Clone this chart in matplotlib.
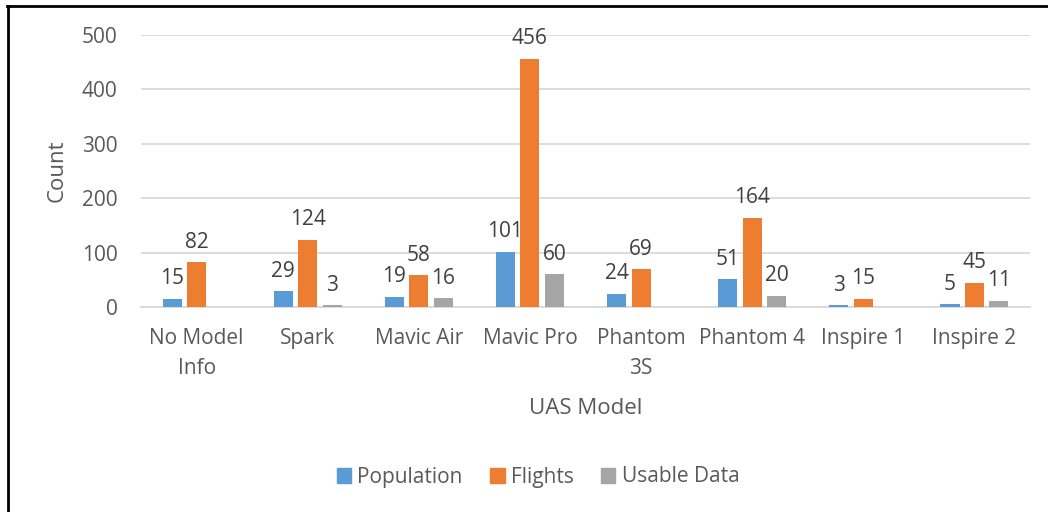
import matplotlib
matplotlib.use("Agg")
import matplotlib.pyplot as plt
import numpy as np
from matplotlib.lines import Line2D

categories = ["No Model\nInfo", "Spark", "Mavic Air", "Mavic Pro", "Phantom\n3S", "Phantom 4", "Inspire 1", "Inspire 2"]
population = [15, 29, 19, 101, 24, 51, 3, 5]
flights = [82, 124, 58, 456, 69, 164, 15, 45]
usable = [None, 3, 16, 60, None, 20, None, 11]

series = [("Population", population, "#5B9BD5"),
          ("Flights", flights, "#ED7D31"),
          ("Usable Data", usable, "#A5A5A5")]

plt.rcParams['font.family'] = ['Open Sans', 'DejaVu Sans']
txt = "#595959"
fs = 15

fig = plt.figure(figsize=(10.48, 5.12), dpi=100)
ax = fig.add_axes([141/1048, 1-307/512, (1030-141)/1048, (307-35)/512])

x = np.arange(len(categories))
w = 0.172
step = 0.22
for i, (name, vals, col) in enumerate(series):
    v = np.array([np.nan if a is None else a for a in vals], dtype=float)
    bars = ax.bar(x + (i-1)*step, np.nan_to_num(v), width=w, color=col, label=name, zorder=3)
    labels = ["" if a is None else str(a) for a in vals]
    ax.bar_label(bars, labels=labels, padding=7, fontsize=fs, color="#404040", clip_on=False)

ax.set_xlim(-0.5, len(categories)-0.5)
ax.set_ylim(0, 500)
ax.set_yticks([0, 100, 200, 300, 400, 500])
ax.yaxis.grid(True, color="#D9D9D9", linewidth=1.3, zorder=0)
ax.set_axisbelow(True)
for s in ["top", "right", "left"]:
    ax.spines[s].set_visible(False)
ax.spines["bottom"].set_color("#D9D9D9")
ax.spines["bottom"].set_linewidth(1.3)
ax.tick_params(axis="both", length=0, labelsize=fs, colors=txt)
ax.tick_params(axis="y", pad=17)
ax.tick_params(axis="x", pad=15)
ax.set_xticks(x)
ax.set_xticklabels(categories, linespacing=1.55)
ax.set_ylabel("Count", fontsize=fs+1, color=txt, labelpad=10)
ax.set_xlabel("UAS Model", fontsize=fs+1, color=txt, labelpad=14)

handles = [plt.Rectangle((0, 0), 1, 1, color=c) for _, _, c in series]
fig.legend(handles, [n for n, _, _ in series], loc="center", bbox_to_anchor=(538/1048, 1-477/512),
           ncol=3, frameon=False, fontsize=fs, labelcolor=txt, handlelength=0.7, handleheight=0.7,
           handletextpad=0.3, columnspacing=1.3)

# figure border (left and top)
fig.add_artist(Line2D([8/1048, 8/1048], [0, 1-6/512], color="black", linewidth=2, transform=fig.transFigure))
fig.add_artist(Line2D([7/1048, 1], [1-6/512, 1-6/512], color="black", linewidth=2, transform=fig.transFigure))

fig.savefig("out.png", dpi=100)
